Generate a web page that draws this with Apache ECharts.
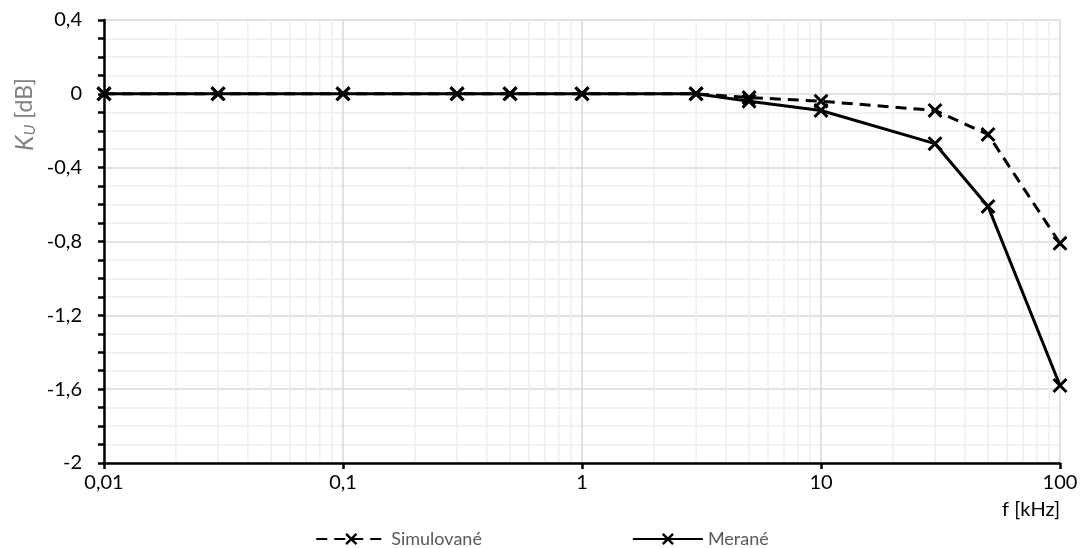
<!DOCTYPE html>
<html><head><meta charset="utf-8">
<script src="https://cdn.jsdelivr.net/npm/echarts@6/dist/echarts.min.js"></script>
<style>html,body{margin:0;padding:0;background:#fff}#c{width:1084px;height:548px}</style>
</head><body><div id="c"></div>
<script>
const freqs = [0.01, 0.03, 0.1, 0.3, 0.5, 1, 3, 5, 10, 30, 50, 100];
const simulovane = [0, 0, 0, 0, 0, 0, 0, -0.02, -0.04, -0.09, -0.22, -0.81];
const merane = [0, 0, 0, 0, 0, 0, 0, -0.04, -0.09, -0.27, -0.61, -1.58];
const minorX = [0.02,0.03,0.04,0.05,0.06,0.07,0.08,0.09,0.2,0.3,0.4,0.5,0.6,0.7,0.8,0.9,2,3,4,5,6,7,8,9,20,30,40,50,60,70,80,90];
const seriesNames = ['Simulované', 'Merané'];

const FONT = 'Lato';
const X = 'path://M0,1.4L1.4,0L5,3.6L8.6,0L10,1.4L6.4,5L10,8.6L8.6,10L5,6.4L1.4,10L0,8.6L3.6,5Z';
const fmt = v => {
  let s = (Math.round(v * 100) / 100).toString();
  return s.replace('.', ',');
};

const chart = echarts.init(document.getElementById('c'));
chart.setOption({
  animation: false,
  textStyle: { fontFamily: FONT },
  grid: { left: 104, right: 24, top: 20, bottom: 85 },
  legend: {
    bottom: -5, left: 'center', itemGap: 150, itemWidth: 70, itemHeight: 15,
    textStyle: { fontFamily: FONT, fontSize: 18, color: '#595959' },
    data: seriesNames
  },
  xAxis: {
    type: 'log', logBase: 10, min: 0.01, max: 100,
    axisLine: { show: true, onZero: false, lineStyle: { color: '#000', width: 2.5 } },
    axisTick: { show: true, length: 6, lineStyle: { color: '#000', width: 2.5 } },
    axisLabel: { fontFamily: FONT, fontSize: 20, color: '#000', margin: 10, formatter: fmt },
    splitLine: { show: true, lineStyle: { color: '#d9d9d9', width: 1.5 } },
    minorTick: { show: false }, minorSplitLine: { show: false }
  },
  yAxis: {
    type: 'value', min: -2, max: 0.4, interval: 0.4,
    axisLine: { show: true, onZero: false, lineStyle: { color: '#000', width: 2.5 } },
    axisTick: { show: true, length: 6, lineStyle: { color: '#000', width: 2.5 } },
    minorTick: { show: true, splitNumber: 4, length: 6, lineStyle: { color: '#000', width: 2.5 } },
    axisLabel: { fontFamily: FONT, fontSize: 20, color: '#000', margin: 22, formatter: fmt },
    splitLine: { show: true, lineStyle: { color: '#d9d9d9', width: 1.5 } },
    minorSplitLine: { show: true, lineStyle: { color: '#eeeeee', width: 1.5 } }
  },
  graphic: [
    { type: 'text', left: 1002, top: 500, style: { text: 'f [kHz]', font: '20px ' + FONT, fill: '#000' } },
    { type: 'text', x: 12, y: 151, rotation: Math.PI / 2,
      style: { text: '{k|K}{u|U}{n| [dB]}', rich: {
        k: { fontFamily: FONT, fontSize: 25, fontStyle: 'italic', fill: '#7f7f7f', color: '#7f7f7f' },
        u: { fontFamily: FONT, fontSize: 16, fontStyle: 'italic', fill: '#7f7f7f', color: '#7f7f7f', verticalAlign: 'bottom', padding: [10, 0, 0, 0] },
        n: { fontFamily: FONT, fontSize: 23, fill: '#7f7f7f', color: '#7f7f7f' }
      } } }
  ],
  series: [
    {
      name: 'grid', type: 'custom', silent: true, z: 0,
      data: minorX,
      renderItem: (params, api) => {
        const x = api.coord([api.value(0), 0])[0];
        const cs = params.coordSys;
        return { type: 'line', shape: { x1: x, y1: cs.y, x2: x, y2: cs.y + cs.height },
                 style: { stroke: '#eeeeee', lineWidth: 1.5 } };
      },
      encode: { x: 0 }
    },
    {
      name: seriesNames[0], type: 'line', z: 3,
      data: freqs.map((f, i) => [f, simulovane[i]]),
      symbol: X, symbolSize: 15,
      lineStyle: { color: '#000', width: 3, type: [11, 7] },
      itemStyle: { color: '#000' }
    },
    {
      name: seriesNames[1], type: 'line', z: 4,
      data: freqs.map((f, i) => [f, merane[i]]),
      symbol: X, symbolSize: 15,
      lineStyle: { color: '#000', width: 3, type: 'solid' },
      itemStyle: { color: '#000' }
    }
  ]
});
</script></body></html>
